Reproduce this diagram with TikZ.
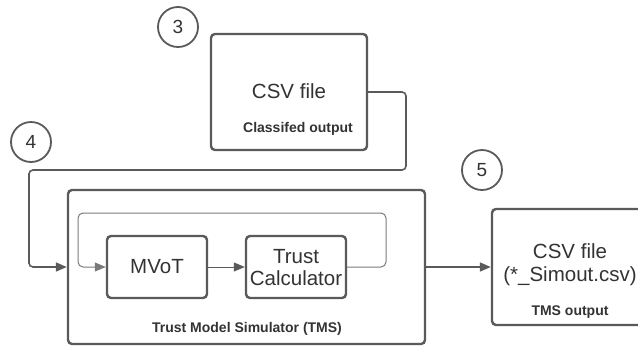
\documentclass[tikz,border=0pt]{standalone}
\usepackage{fontspec}
\setmainfont{Liberation Sans}
\usetikzlibrary{arrows.meta,calc}
\definecolor{linegrey}{HTML}{5A5A5A}
\definecolor{loopgrey}{HTML}{7A7A7A}
\definecolor{textgrey}{HTML}{333333}
\begin{document}
\begin{tikzpicture}[x=1pt,y=-1pt,
  box/.style={draw=linegrey,line width=2.4pt,rounded corners=4pt,fill=white,inner sep=0pt},
  numcirc/.style={draw=linegrey,line width=1.8pt,circle,minimum size=40pt,inner sep=0pt,
    text=textgrey,font=\fontsize{19}{21}\selectfont},
  bigtxt/.style={text=textgrey,inner sep=0pt,font=\fontsize{20.5}{24}\selectfont,align=center},
  smalltxt/.style={text=textgrey,inner sep=0pt,font=\fontsize{14}{16}\selectfont\bfseries},
  conn/.style={draw=linegrey,line width=1.6pt,rounded corners=4pt},
  loopline/.style={draw=loopgrey,line width=1pt,rounded corners=5pt},
  tip/.style={-{Triangle[length=11pt,width=9pt]}}
]
\useasboundingbox (0,0) rectangle (638,346);
\clip (0,0) rectangle (638,346);

% step numbers
\node[numcirc] (n3) at (178,27) {3};
\node[numcirc] (n4) at (31,142) {4};
\node[numcirc] (n5) at (482,170) {5};

% classified input file
\node[box,minimum width=156pt,minimum height=116pt] (csvin) at (289,92) {};
\node[bigtxt] (csvinlbl) at (289,91) {CSV file};
\node[smalltxt] (csvinsub) at (298,129) {Classifed output};

% simulator
\node[box,minimum width=357pt,minimum height=154pt] (tms) at (246.5,267) {};
\node[smalltxt] (tmslbl) at (247,329) {Trust Model Simulator (TMS)};
\node[box,minimum width=100pt,minimum height=62pt] (mvot) at (157,267) {};
\node[bigtxt] (mvotlbl) at (157,267) {MVoT};
\node[box,minimum width=100pt,minimum height=62pt] (tc) at (296,267) {};
\node[bigtxt] (tclbl) at (296,268) {Trust\\[-2pt]Calculator};

% simulator output file
\node[box,minimum width=156pt,minimum height=116pt] (csvout) at (570,267) {};
\node[bigtxt] (csvoutlbl) at (570,265) {CSV file\\[-1pt](*\_Simout.csv)};
\node[smalltxt] (csvoutsub) at (570,312) {TMS output};

% routing points
\coordinate (r1) at (406,92);
\coordinate (r2) at (406,170);
\coordinate (r3) at (29,170);
\coordinate (r4) at (29,267);
\coordinate (l1) at (386,267);
\coordinate (l2) at (386,213);
\coordinate (l3) at (78,213);
\coordinate (l4) at (78,267);

% connectors
\draw[conn,tip] (csvin.east) -- (r1) -- (r2) -- (r3) -- (r4) -- (tms.west);
\draw[loopline,tip] (tc.east) -- (l1) -- (l2) -- (l3) -- (l4) -- (mvot.west);
\draw[draw=linegrey,line width=1pt,tip] (mvot.east) -- (tc.west);
\draw[conn,tip] (tms.east) -- (csvout.west);
\end{tikzpicture}
\end{document}
